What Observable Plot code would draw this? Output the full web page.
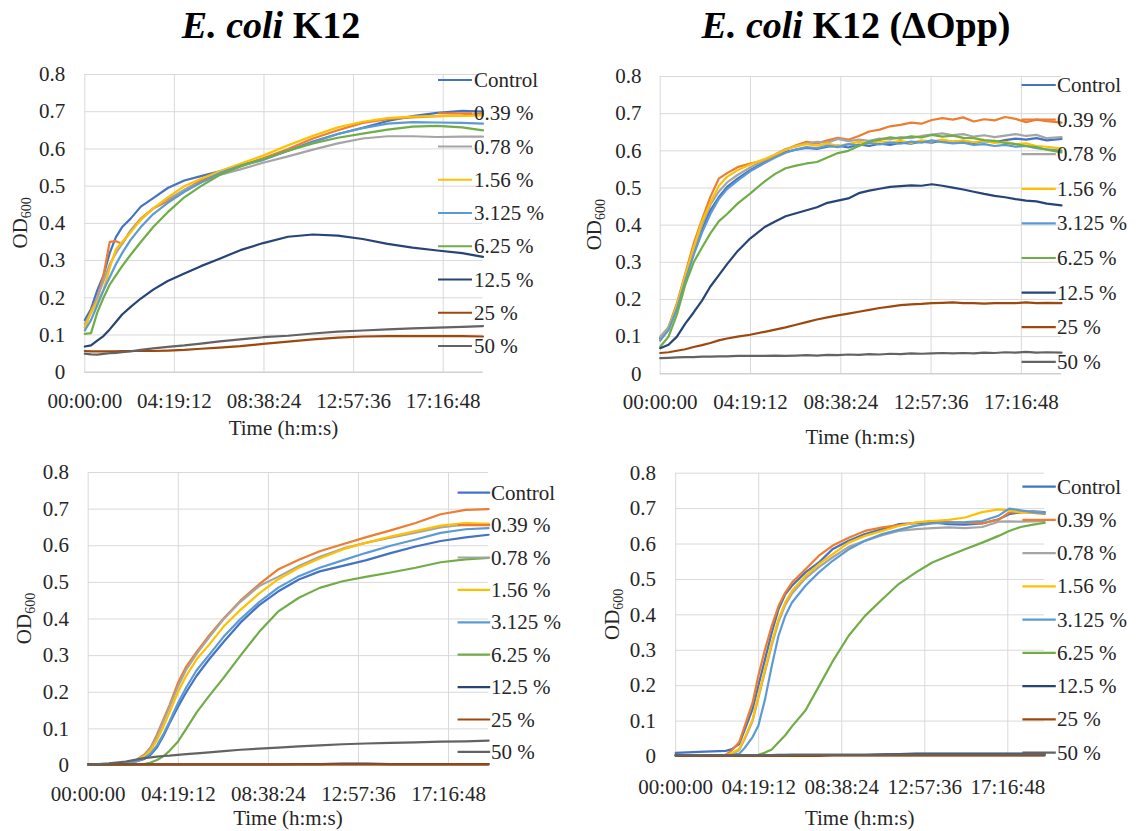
<!DOCTYPE html>
<html>
<head>
<meta charset="utf-8">
<script src="https://cdn.jsdelivr.net/npm/d3@7"></script>
<script src="https://cdn.jsdelivr.net/npm/@observablehq/plot@0.6"></script>
<style>
  html, body { margin: 0; padding: 0; background: #fff; }
  #fig { position: relative; width: 1143px; height: 831px; overflow: hidden; }
  #fig svg { position: absolute; left: 0; top: 0; }
</style>
</head>
<body>
<div id="fig"></div>
<script>
// Series (treatment concentrations) and their colours
const seriesNames = ["Control", "0.39 %", "0.78 %", "1.56 %", "3.125 %", "6.25 %", "12.5 %", "25 %", "50 %"];
const seriesColors = ["#4472C4", "#ED7D31", "#A5A5A5", "#FFC000", "#5B9BD5", "#70AD47", "#264478", "#9E480E", "#636363"];

// Time axis (hours) and its h:m:s labels
const timeTicks = [0, 4.32, 8.64, 12.96, 17.28];
const timeTickLabels = ["00:00:00", "04:19:12", "08:38:24", "12:57:36", "17:16:48"];
const odTicks = [0, 0.1, 0.2, 0.3, 0.4, 0.5, 0.6, 0.7, 0.8];

const strainTitles = ["K12", "K12 (\u0394Opp)"];

// ---- E. coli K12, upper panel ----
const hoursA = [0, 0.3, 0.6, 0.9, 1.2, 1.5, 1.8, 2.2, 2.7, 3.3, 4.0, 4.8, 5.6, 6.5, 7.5, 8.6, 9.8, 11.0, 12.2, 13.4, 14.6, 15.8, 17.0, 18.2, 19.2];
const odA = [
  [0.14, 0.17, 0.22, 0.26, 0.32, 0.363, 0.39, 0.412, 0.445, 0.468, 0.495, 0.515, 0.527, 0.54, 0.556, 0.573, 0.595, 0.62, 0.64, 0.657, 0.675, 0.688, 0.697, 0.702, 0.70],
  [0.12, 0.165, 0.2, 0.26, 0.35, 0.352, 0.345, 0.38, 0.413, 0.44, 0.46, 0.49, 0.515, 0.535, 0.553, 0.575, 0.6, 0.628, 0.65, 0.67, 0.68, 0.685, 0.688, 0.69, 0.695],
  [0.13, 0.16, 0.2, 0.245, 0.29, 0.32, 0.345, 0.38, 0.41, 0.44, 0.465, 0.49, 0.51, 0.53, 0.545, 0.563, 0.58, 0.598, 0.615, 0.628, 0.634, 0.634, 0.632, 0.633, 0.633],
  [0.121, 0.16, 0.19, 0.22, 0.28, 0.33, 0.35, 0.375, 0.41, 0.44, 0.47, 0.5, 0.52, 0.54, 0.56, 0.582, 0.61, 0.635, 0.658, 0.673, 0.683, 0.687, 0.688, 0.689, 0.69],
  [0.112, 0.14, 0.18, 0.22, 0.255, 0.29, 0.32, 0.355, 0.39, 0.425, 0.455, 0.485, 0.51, 0.535, 0.555, 0.57, 0.595, 0.618, 0.64, 0.656, 0.668, 0.672, 0.671, 0.67, 0.668],
  [0.103, 0.105, 0.16, 0.2, 0.235, 0.26, 0.285, 0.315, 0.35, 0.39, 0.43, 0.47, 0.5, 0.53, 0.553, 0.573, 0.595, 0.615, 0.63, 0.641, 0.652, 0.66, 0.662, 0.658, 0.65],
  [0.069, 0.072, 0.085, 0.097, 0.115, 0.135, 0.155, 0.175, 0.198, 0.222, 0.245, 0.265, 0.285, 0.305, 0.328, 0.347, 0.364, 0.37, 0.367, 0.358, 0.345, 0.335, 0.327, 0.32, 0.31],
  [0.057, 0.056, 0.056, 0.056, 0.056, 0.056, 0.057, 0.057, 0.057, 0.057, 0.058, 0.06, 0.063, 0.066, 0.07, 0.076, 0.082, 0.088, 0.093, 0.096, 0.097, 0.097, 0.097, 0.097, 0.096],
  [0.05, 0.048, 0.047, 0.049, 0.051, 0.052, 0.054, 0.056, 0.06, 0.064, 0.068, 0.072, 0.077, 0.083, 0.088, 0.094, 0.098, 0.104, 0.109, 0.112, 0.115, 0.118, 0.12, 0.122, 0.124]
];

// ---- E. coli K12 (ΔOpp), upper panel ----
const hoursB = [0, 0.4, 0.8, 1.2, 1.6, 2.0, 2.4, 2.8, 3.2, 3.7, 4.3, 5.0,
  5.5, 6.0, 6.5, 7.0, 7.5, 8.0, 8.5, 9.0, 9.5, 10.0, 10.5, 11.0, 11.5, 12.0, 12.5, 13.0,
  13.5, 14.0, 14.5, 15.0, 15.5, 16.0, 16.5, 17.0, 17.5, 18.0, 18.5, 19.2];
const odB = [
  [0.095, 0.125, 0.18, 0.26, 0.325, 0.39, 0.44, 0.475, 0.503, 0.525, 0.548, 0.57,
   0.585, 0.597, 0.603, 0.608, 0.605, 0.611, 0.614, 0.609, 0.617, 0.613, 0.619, 0.616, 0.622, 0.619, 0.625, 0.622,
   0.628, 0.624, 0.627, 0.621, 0.626, 0.623, 0.629, 0.633, 0.63, 0.634, 0.628, 0.632],
  [0.09, 0.125, 0.19, 0.27, 0.35, 0.415, 0.476, 0.525, 0.54, 0.556, 0.566, 0.575,
   0.585, 0.603, 0.615, 0.624, 0.62, 0.628, 0.635, 0.63, 0.64, 0.652, 0.657, 0.666, 0.67, 0.676, 0.673, 0.683,
   0.688, 0.684, 0.69, 0.679, 0.685, 0.682, 0.691, 0.686, 0.677, 0.684, 0.68, 0.676],
  [0.1, 0.125, 0.185, 0.265, 0.335, 0.4, 0.455, 0.49, 0.515, 0.535, 0.555, 0.575,
   0.59, 0.605, 0.612, 0.62, 0.624, 0.622, 0.632, 0.626, 0.63, 0.627, 0.633, 0.631, 0.637, 0.634, 0.64, 0.644,
   0.647, 0.642, 0.645, 0.638, 0.642, 0.637, 0.641, 0.645, 0.64, 0.643, 0.634, 0.637],
  [0.09, 0.12, 0.185, 0.265, 0.34, 0.41, 0.46, 0.505, 0.53, 0.548, 0.563, 0.578,
   0.59, 0.603, 0.613, 0.618, 0.614, 0.62, 0.613, 0.618, 0.624, 0.62, 0.626, 0.622, 0.627, 0.621, 0.628, 0.625,
   0.63, 0.624, 0.628, 0.623, 0.627, 0.621, 0.624, 0.618, 0.62, 0.613, 0.611, 0.606],
  [0.09, 0.118, 0.175, 0.25, 0.32, 0.38, 0.43, 0.47, 0.497, 0.52, 0.545, 0.567,
   0.582, 0.595, 0.604, 0.61, 0.607, 0.614, 0.61, 0.618, 0.614, 0.621, 0.617, 0.622, 0.619, 0.625, 0.622, 0.628,
   0.623, 0.62, 0.622, 0.616, 0.618, 0.613, 0.616, 0.611, 0.613, 0.607, 0.604, 0.6],
  [0.073, 0.1, 0.16, 0.24, 0.3, 0.34, 0.378, 0.41, 0.43, 0.458, 0.485, 0.518,
   0.538, 0.553, 0.56, 0.566, 0.57, 0.582, 0.594, 0.6, 0.613, 0.625, 0.63, 0.636, 0.633, 0.639, 0.636, 0.643,
   0.638, 0.641, 0.635, 0.634, 0.629, 0.627, 0.621, 0.618, 0.613, 0.61, 0.603, 0.596],
  [0.069, 0.078, 0.1, 0.135, 0.165, 0.197, 0.235, 0.265, 0.295, 0.33, 0.364, 0.395,
   0.41, 0.424, 0.432, 0.44, 0.448, 0.46, 0.466, 0.472, 0.486, 0.493, 0.498, 0.503, 0.505, 0.507, 0.506, 0.51,
   0.506, 0.501, 0.496, 0.49, 0.484, 0.479, 0.475, 0.47, 0.466, 0.464, 0.458, 0.453],
  [0.056, 0.058, 0.062, 0.066, 0.072, 0.077, 0.083, 0.09, 0.095, 0.1, 0.105, 0.113,
   0.119, 0.125, 0.132, 0.139, 0.146, 0.152, 0.157, 0.162, 0.167, 0.172, 0.177, 0.181, 0.185, 0.187, 0.188, 0.19,
   0.191, 0.192, 0.19, 0.19, 0.189, 0.19, 0.19, 0.19, 0.192, 0.19, 0.191, 0.19],
  [0.042, 0.043, 0.044, 0.045, 0.045, 0.046, 0.046, 0.047, 0.047, 0.048, 0.048, 0.048,
   0.049, 0.048, 0.049, 0.05, 0.049, 0.051, 0.05, 0.052, 0.051, 0.053, 0.052, 0.054, 0.053, 0.055, 0.054, 0.055,
   0.056, 0.055, 0.056, 0.055, 0.057, 0.056, 0.058, 0.057, 0.059, 0.057, 0.058, 0.057]
];

// ---- E. coli K12, lower panel ----
const hoursC = [0, 1.0, 1.8, 2.3, 2.7, 3.0, 3.3, 3.6, 3.9, 4.3, 4.7, 5.2, 5.8, 6.5, 7.3, 8.2, 9.1, 10.1, 11.1, 12.2, 13.3, 14.5, 15.7, 16.9, 18.1, 19.2];
const odC = [
  [0.003, 0.004, 0.007, 0.011, 0.018, 0.03, 0.05, 0.08, 0.115, 0.16, 0.2, 0.245, 0.29, 0.338, 0.39, 0.438, 0.475, 0.508, 0.53, 0.545, 0.56, 0.58, 0.598, 0.613, 0.623, 0.63],
  [0.003, 0.004, 0.008, 0.015, 0.03, 0.05, 0.085, 0.125, 0.165, 0.225, 0.27, 0.31, 0.355, 0.402, 0.45, 0.495, 0.535, 0.562, 0.585, 0.604, 0.623, 0.642, 0.662, 0.686, 0.698, 0.70],
  [0.003, 0.004, 0.008, 0.014, 0.028, 0.048, 0.08, 0.12, 0.16, 0.215, 0.262, 0.305, 0.35, 0.4, 0.447, 0.49, 0.515, 0.545, 0.57, 0.592, 0.608, 0.622, 0.636, 0.65, 0.658, 0.66],
  [0.003, 0.004, 0.008, 0.013, 0.025, 0.042, 0.07, 0.105, 0.145, 0.2, 0.245, 0.29, 0.33, 0.38, 0.425, 0.47, 0.508, 0.54, 0.565, 0.59, 0.608, 0.625, 0.64, 0.655, 0.662, 0.66],
  [0.003, 0.004, 0.007, 0.012, 0.02, 0.033, 0.055, 0.085, 0.12, 0.17, 0.213, 0.26, 0.302, 0.352, 0.4, 0.446, 0.485, 0.517, 0.54, 0.56, 0.58, 0.6, 0.617, 0.635, 0.645, 0.648],
  [0.002, 0.002, 0.002, 0.003, 0.004, 0.008, 0.015, 0.025, 0.04, 0.065, 0.1, 0.145, 0.19, 0.24, 0.3, 0.365, 0.42, 0.458, 0.485, 0.503, 0.515, 0.527, 0.54, 0.555, 0.563, 0.567],
  [0.003, 0.003, 0.003, 0.003, 0.003, 0.003, 0.003, 0.003, 0.003, 0.003, 0.003, 0.003, 0.003, 0.003, 0.003, 0.003, 0.003, 0.004, 0.004, 0.005, 0.005, 0.004, 0.004, 0.004, 0.004, 0.004],
  [0.003, 0.003, 0.003, 0.003, 0.003, 0.003, 0.003, 0.003, 0.003, 0.003, 0.003, 0.003, 0.003, 0.003, 0.003, 0.003, 0.003, 0.003, 0.003, 0.003, 0.003, 0.003, 0.003, 0.003, 0.003, 0.003],
  [0.002, 0.006, 0.011, 0.016, 0.02, 0.022, 0.024, 0.026, 0.027, 0.029, 0.031, 0.033, 0.036, 0.039, 0.043, 0.046, 0.049, 0.052, 0.055, 0.058, 0.06, 0.062, 0.063, 0.065, 0.066, 0.068]
];

// ---- E. coli K12 (ΔOpp), lower panel ----
const hoursD = [0, 1.2, 2.6, 2.9, 3.3, 3.6, 4.0, 4.3, 4.65, 5.0, 5.35, 5.7, 6.05, 6.75, 7.45, 8.15, 9.0, 9.85, 10.75, 11.6, 12.5, 13.35, 14.2, 15.05, 15.95, 16.8, 17.35, 17.95, 18.6, 19.2];
const odD = [
  [0.01, 0.013, 0.016, 0.02, 0.035, 0.077, 0.134, 0.2, 0.275, 0.35, 0.416, 0.458, 0.482, 0.52, 0.548, 0.585, 0.609, 0.628, 0.642, 0.656, 0.659, 0.661, 0.656, 0.655, 0.658, 0.67, 0.684, 0.69, 0.692, 0.69],
  [0.003, 0.003, 0.005, 0.016, 0.04, 0.087, 0.152, 0.228, 0.303, 0.369, 0.425, 0.463, 0.491, 0.529, 0.567, 0.595, 0.618, 0.637, 0.647, 0.653, 0.66, 0.665, 0.662, 0.66, 0.659, 0.668, 0.689, 0.69, 0.688, 0.685],
  [0.003, 0.003, 0.004, 0.006, 0.018, 0.05, 0.1, 0.165, 0.24, 0.315, 0.38, 0.428, 0.46, 0.503, 0.535, 0.562, 0.592, 0.609, 0.625, 0.637, 0.642, 0.645, 0.647, 0.645, 0.648, 0.663, 0.664, 0.663, 0.664, 0.665],
  [0.003, 0.003, 0.004, 0.008, 0.021, 0.054, 0.105, 0.171, 0.247, 0.322, 0.388, 0.435, 0.468, 0.51, 0.543, 0.571, 0.604, 0.623, 0.637, 0.651, 0.661, 0.665, 0.668, 0.675, 0.69, 0.698, 0.695, 0.689, 0.69, 0.688],
  [0.003, 0.003, 0.003, 0.004, 0.008, 0.025, 0.055, 0.087, 0.162, 0.256, 0.341, 0.397, 0.435, 0.482, 0.52, 0.552, 0.585, 0.609, 0.628, 0.64, 0.652, 0.658, 0.661, 0.662, 0.665, 0.68, 0.7, 0.695, 0.69, 0.688],
  [0.002, 0.002, 0.002, 0.002, 0.002, 0.003, 0.003, 0.005, 0.011, 0.02, 0.04, 0.06, 0.085, 0.13, 0.198, 0.267, 0.341, 0.397, 0.444, 0.487, 0.52, 0.548, 0.567, 0.585, 0.604, 0.623, 0.637, 0.648, 0.655, 0.66],
  [0.004, 0.004, 0.004, 0.004, 0.004, 0.004, 0.004, 0.004, 0.004, 0.004, 0.005, 0.005, 0.005, 0.005, 0.005, 0.005, 0.005, 0.005, 0.006, 0.007, 0.008, 0.008, 0.008, 0.008, 0.008, 0.008, 0.008, 0.008, 0.008, 0.008],
  [0.002, 0.002, 0.002, 0.002, 0.002, 0.002, 0.002, 0.002, 0.002, 0.002, 0.002, 0.002, 0.002, 0.002, 0.002, 0.003, 0.003, 0.003, 0.003, 0.003, 0.003, 0.003, 0.003, 0.003, 0.003, 0.003, 0.003, 0.003, 0.003, 0.003],
  [0.004, 0.004, 0.004, 0.004, 0.004, 0.004, 0.004, 0.004, 0.004, 0.004, 0.004, 0.004, 0.005, 0.005, 0.005, 0.005, 0.005, 0.005, 0.005, 0.006, 0.006, 0.006, 0.006, 0.006, 0.006, 0.006, 0.006, 0.006, 0.006, 0.006]
];

// ---- Layout: plot frame [left, right, top, bottom] in page pixels, legend placement, label offsets ----
const W = 1143, H = 831;
const FONT = "'Liberation Serif', 'Times New Roman', serif";
const TEXT = "#262626";
const panels = [
  { hours: hoursA, od: odA, frame: [84.3, 482.5, 74, 371.7], xPad: 20.5, yPad: 19.6,
    legend: { x1: 438, x2: 472, tx: 474, y0: 80, dy: 33.25 }, timeY: 428, odX: 20 },
  { hours: hoursB, od: odB, frame: [659.7, 1061, 76, 373.3], xPad: 20.6, yPad: 18.7,
    legend: { x1: 1021.6, x2: 1055.8, tx: 1057, y0: 85, dy: 34.6 }, timeY: 436.7, odX: 594 },
  { hours: hoursC, od: odC, frame: [87.7, 488.1, 472, 765], xPad: 20.5, yPad: 19.3,
    legend: { x1: 457.6, x2: 490.2, tx: 491, y0: 492.7, dy: 32.4 }, timeY: 818, odX: 24 },
  { hours: hoursD, od: odD, frame: [675.2, 1044.2, 472.7, 756], xPad: 22.9, yPad: 19.8,
    legend: { x1: 1022.4, x2: 1055.8, tx: 1057, y0: 486.7, dy: 33.25 }, timeY: 818.3, odX: 612 }
];

const fig = document.getElementById("fig");

panels.forEach(p => {
  const [left, right, top, bottom] = p.frame;
  const rows = p.od.flatMap((vals, si) => vals.map((v, i) => ({ t: p.hours[i], od: v, s: seriesNames[si] })));
  const chart = Plot.plot({
    width: W,
    height: H,
    marginLeft: left,
    marginRight: W - right,
    marginTop: top,
    marginBottom: H - bottom,
    style: { background: "transparent", fontFamily: FONT, fontSize: "21px", color: TEXT, overflow: "visible" },
    x: {
      domain: [0, 19.2],
      ticks: timeTicks,
      tickFormat: h => timeTickLabels[timeTicks.indexOf(h)],
      tickSize: 0,
      tickPadding: p.xPad,
      label: null
    },
    y: {
      domain: [0, 0.8],
      ticks: odTicks,
      tickFormat: d => (d === 0 ? "0" : d.toFixed(1)),
      tickSize: 0,
      tickPadding: p.yPad,
      label: null
    },
    color: { domain: seriesNames, range: seriesColors },
    marks: [
      Plot.ruleY(odTicks, { stroke: "#d9d9d9", strokeWidth: 1 }),
      Plot.ruleX(timeTicks, { stroke: "#d9d9d9", strokeWidth: 1 }),
      Plot.ruleY([0], { stroke: "#c8c8c8", strokeWidth: 1 }),
      Plot.line(rows, { x: "t", y: "od", z: "s", stroke: "s", strokeWidth: 2.2 })
    ]
  });
  fig.appendChild(chart);
});

// Titles, axis titles and legends drawn on a shared overlay
const ann = d3.select(fig).append("svg")
  .attr("width", W).attr("height", H)
  .style("font-family", FONT).style("fill", TEXT);

[[271, strainTitles[0]], [856, strainTitles[1]]].forEach(([cx, rest]) => {
  const t = ann.append("text")
    .attr("x", cx).attr("y", 38)
    .attr("text-anchor", "middle")
    .style("font-size", "38px").style("font-weight", "bold").style("fill", "#000");
  t.append("tspan").style("font-style", "italic").text("E. coli");
  t.append("tspan").text(" " + rest);
});

panels.forEach(p => {
  const [left, right, top, bottom] = p.frame;
  const cy = (top + bottom) / 2;

  // y-axis title OD600 with subscript
  const od = ann.append("text")
    .attr("transform", `translate(${p.odX + 7},${cy}) rotate(-90)`)
    .attr("text-anchor", "middle")
    .style("font-size", "21px");
  od.append("tspan").text("OD");
  od.append("tspan").attr("dy", 4).style("font-size", "14px").text("600");

  // x-axis title
  ann.append("text")
    .attr("x", (left + right) / 2).attr("y", p.timeY + 7)
    .attr("text-anchor", "middle")
    .style("font-size", "21px")
    .text("Time (h:m:s)");

  // legend
  const L = p.legend;
  seriesNames.forEach((name, i) => {
    const y = L.y0 + i * L.dy;
    ann.append("line")
      .attr("x1", L.x1).attr("x2", L.x2).attr("y1", y).attr("y2", y)
      .attr("stroke", seriesColors[i]).attr("stroke-width", 2.2);
    ann.append("text")
      .attr("x", L.tx).attr("y", y + 7)
      .style("font-size", "21px")
      .text(name);
  });
});
</script>
</body>
</html>
